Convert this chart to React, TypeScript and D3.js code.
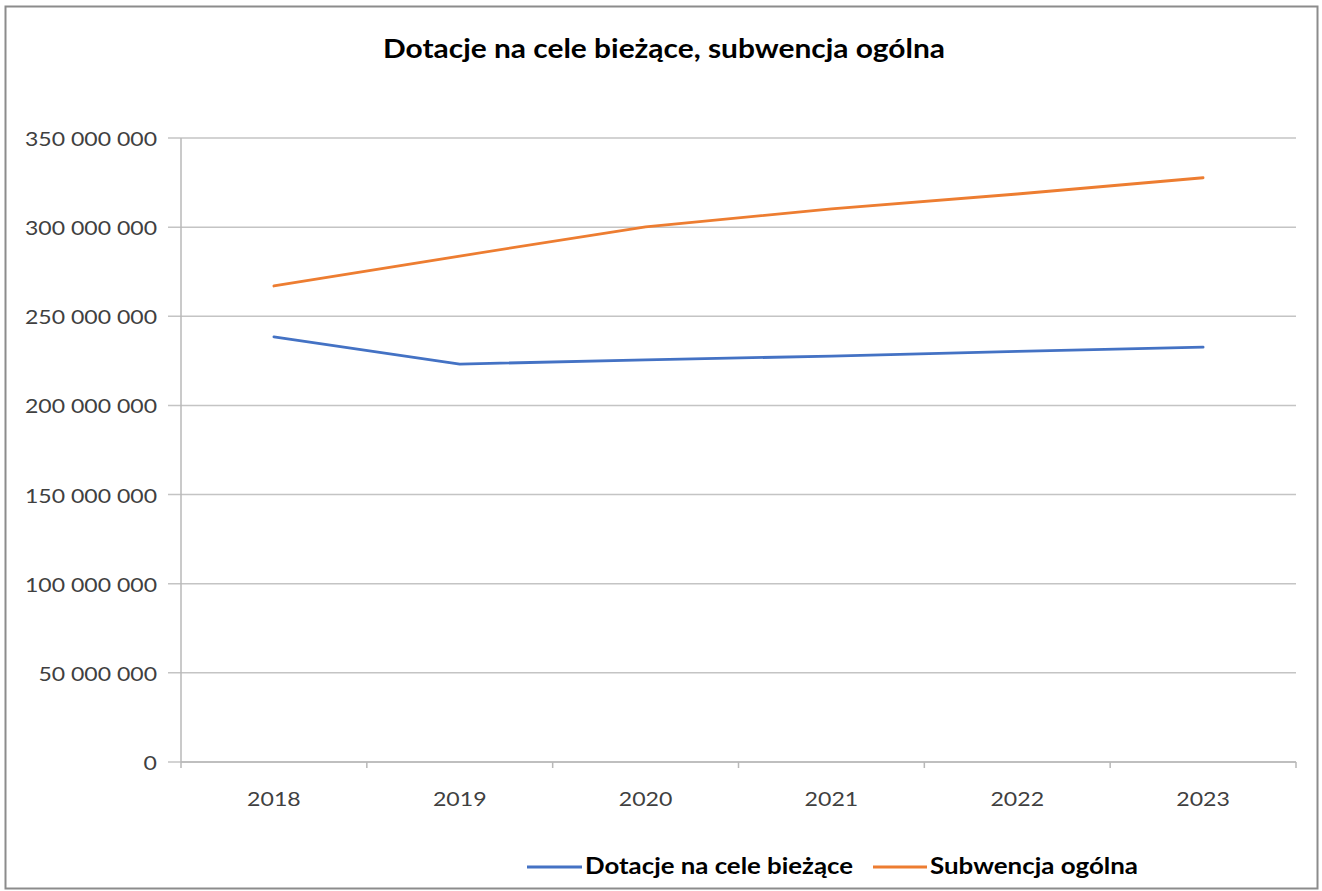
import React from "react";
import * as d3 from "d3";

const years = ["2018", "2019", "2020", "2021", "2022", "2023"];
const dotacje = [238400000, 223200000, 225500000, 227700000, 230300000, 232700000];
const subwencja = [267000000, 283800000, 300200000, 310200000, 318600000, 327700000];
const yTicks = [0, 50000000, 100000000, 150000000, 200000000, 250000000, 300000000, 350000000];
const seriesNames = ["Dotacje na cele bieżące", "Subwencja ogólna"];
const title = "Dotacje na cele bieżące, subwencja ogólna";

const W = 1322, H = 891;
const FONT = "Lato, 'Open Sans', sans-serif";

// approximate rendered widths to mimic the reference's font metrics
const numWidth = (s: string) => {
  let w = 0;
  for (const c of s) w += c === " " ? 5.7 : 13.4;
  return w;
};

export default function App() {
  const x = d3.scaleBand<string>().domain(years).range([181, 1296]);
  const y = d3.scaleLinear().domain([0, 350000000]).range([762, 138]);
  const fmt = (v: number) => d3.format(",")(v).replace(/,/g, " ");
  const line = d3.line<number>().x((_, i) => x(years[i])! + x.bandwidth() / 2).y((d) => y(d));
  const colors = ["#4472C4", "#ED7D31"];
  const series = [dotacje, subwencja];

  return (
    <svg width={W} height={H} style={{ position: "absolute", left: 0, top: 0, background: "#fff" }}>
      <rect x={5.5} y={6.5} width={1312} height={882} fill="#fff" stroke="#8c8c8c" strokeWidth={2} />
      <text x={383} y={58} fontFamily={FONT} fontWeight="bold" fontSize={26} fill="#000"
        textLength={562} lengthAdjust="spacingAndGlyphs">{title}</text>
      {yTicks.map((t) => {
        const lbl = fmt(t);
        const w = numWidth(lbl);
        return (
          <g key={t}>
            <line x1={168} x2={1296} y1={y(t)} y2={y(t)} stroke="#c4c4c4" strokeWidth={1.5} />
            <text x={157 - w} y={y(t) + 8} fontFamily={FONT} fontSize={20} fill="#404040"
              textLength={w} lengthAdjust="spacingAndGlyphs">{lbl}</text>
          </g>
        );
      })}
      <line x1={181} x2={181} y1={138} y2={762} stroke="#b8b8b8" strokeWidth={1.5} />
      <line x1={181} x2={1296} y1={762} y2={762} stroke="#b8b8b8" strokeWidth={1.5} />
      {years.map((yr) => (
        <line key={"t" + yr} x1={x(yr)!} x2={x(yr)!} y1={762} y2={768} stroke="#b8b8b8" strokeWidth={1.5} />
      ))}
      <line x1={1296} x2={1296} y1={762} y2={768} stroke="#b8b8b8" strokeWidth={1.5} />
      {years.map((yr) => {
        const w = numWidth(yr);
        return (
          <text key={yr} x={x(yr)! + x.bandwidth() / 2 - w / 2} y={806} fontFamily={FONT} fontSize={20} fill="#404040"
            textLength={w} lengthAdjust="spacingAndGlyphs">{yr}</text>
        );
      })}
      {series.map((s, i) => (
        <path key={i} d={line(s)!} fill="none" stroke={colors[i]} strokeWidth={2.8} strokeLinecap="round" strokeLinejoin="round" />
      ))}
      <g>
        <line x1={527} x2={582} y1={867} y2={867} stroke={colors[0]} strokeWidth={2.8} />
        <text x={585} y={874} fontFamily={FONT} fontWeight="bold" fontSize={23} fill="#000"
          textLength={268} lengthAdjust="spacingAndGlyphs">{seriesNames[0]}</text>
        <line x1={873} x2={927} y1={867} y2={867} stroke={colors[1]} strokeWidth={2.8} />
        <text x={930} y={874} fontFamily={FONT} fontWeight="bold" fontSize={23} fill="#000"
          textLength={208} lengthAdjust="spacingAndGlyphs">{seriesNames[1]}</text>
      </g>
    </svg>
  );
}
